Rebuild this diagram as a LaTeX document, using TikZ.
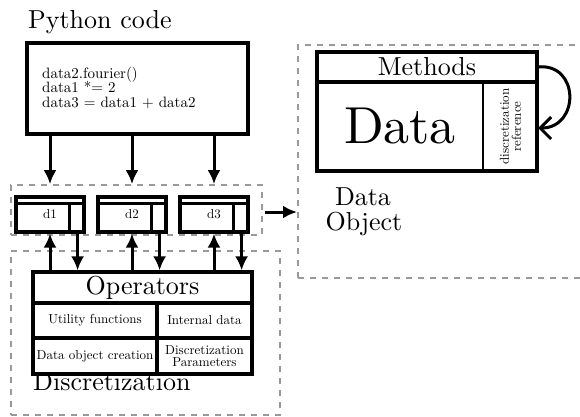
\documentclass[tikz,border=0pt]{standalone}
\usepackage{fontspec}
\setmainfont{lmroman10-regular.otf}
\usetikzlibrary{arrows.meta,calc}
\tikzset{
  box/.style={draw, line width=3.2pt, rectangle, inner sep=0pt},
  dashbox/.style={draw=black!40, line width=1.8pt, dash pattern=on 6pt off 6pt, rectangle, inner sep=0pt},
  arr/.style={line width=3pt, -{Latex[length=14pt,width=13pt]}},
  divider/.style={line width=3.2pt},
  big/.style={font=\fontsize{26}{26}\selectfont, inner sep=0pt},
  small/.style={font=\fontsize{13}{13}\selectfont, inner sep=0pt},
}
\begin{document}
\begin{tikzpicture}[x=1pt,y=-1pt]
\useasboundingbox (0,0) rectangle (580,416);
\clip (0,0) rectangle (580,416);

% dashed groups
\node[dashbox, minimum width=251pt, minimum height=50pt] (dgroup) at (136.5,210) {};
\node[dashbox, minimum width=269pt, minimum height=164pt] (disc) at (145.5,333) {};
\node[dashbox, minimum width=292pt, minimum height=233pt] (dataobj) at (444,161.5) {};

% Python code
\node[big, anchor=base west] (pylabel) at (28,28) {Python code};
\node[box, minimum width=221pt, minimum height=91pt] (code) at (137.5,88.5) {};
\node[anchor=base west, inner sep=0pt, font=\fontsize{15}{15}\selectfont] (c1) at (42,78) {data2.fourier()};
\node[anchor=base west, inner sep=0pt, font=\fontsize{15}{15}\selectfont] (c2) at (42,92.5) {data1 *= 2};
\node[anchor=base west, inner sep=0pt, font=\fontsize{15}{15}\selectfont] (c3) at (42,107) {data3 = data1 + data2};

% data boxes
\foreach \n/\cx in {1/50,2/132,3/214}{
  \node[box, minimum width=68pt, minimum height=35pt] (d\n) at (\cx,214.5) {};
  \draw[divider] ($(d\n.north west)+(0,8)$) coordinate (d\n hl) -- ($(d\n.north east)+(0,8)$) coordinate (d\n hr);
  \draw[divider] ($(d\n.south east)+(-16,0)$) coordinate (d\n vb) -- ($(d\n.north east)+(-16,8)$) coordinate (d\n vt);
  \node[small] (d\n lab) at (\cx,214) {d\n};
  \coordinate (d\n r) at ($(d\n.south east)+(-8,0)$);
}

% arrows from code
\foreach \n in {1,2,3}{
  \draw[arr] (code.south -| d\n.center) -- (dgroup.north -| d\n.center);
}

% Operators
\node[box, minimum width=219pt, minimum height=102pt] (ops) at (142.5,323) {};
\draw[divider] (33,303) coordinate (opl1) -- (252,303) coordinate (opr1);
\draw[divider] (33,338) coordinate (opl2) -- (252,338) coordinate (opr2);
\draw[divider] (157,303) coordinate (opv1) -- (157,374) coordinate (opv2);
\node[big] (opname) at (142.5,287.5) {Operators};
\node[small] (util) at (95,320.5) {Utility functions};
\node[small] (intd) at (204.5,320.5) {Internal data};
\node[small] (creat) at (95,356) {Data object creation};
\node[small, anchor=base] (dp1) at (204.5,354) {Discretization};
\node[small, anchor=base] (dp2) at (204.5,366) {Parameters};
\node[big, anchor=base west] (disclab) at (33,390) {Discretization};

% arrows between d boxes and operators
\foreach \n in {1,2,3}{
  \draw[arr] (ops.north -| d\n.center) -- (d\n.south);
  \draw[arr] (d\n r) -- (ops.north -| d\n r);
}

% arrow to data object
\coordinate (rs) at (265,212);
\coordinate (re) at (297,212);
\draw[arr] (rs) -- (re);

% Data object
\node[box, minimum width=220pt, minimum height=119pt] (methods) at (427,111.5) {};
\draw[divider] (317,82) coordinate (ml) -- (537,82) coordinate (mr);
\draw[line width=2.4pt] (483,82) coordinate (mvt) -- (483,171) coordinate (mvb);
\node[big] (mlab) at (427,67) {Methods};
\node[inner sep=0pt, font=\fontsize{52}{52}\selectfont] (datalab) at (400,126.5) {Data};
\node[inner sep=0pt, rotate=90, align=center, font=\fontsize{13}{12}\selectfont] (dref) at (510.5,126.5) {discretization\\reference};
\coordinate (cs) at (537,67);
\coordinate (ce) at (538,128);
\draw[line width=3pt, -{Straight Barb[length=11pt,width=22pt]}] (cs) .. controls (580,62) and (580,128) .. (ce);
\node[big, anchor=base] (do1) at (363,205) {Data};
\node[big, anchor=base] (do2) at (364,230) {Object};
\end{tikzpicture}
\end{document}
